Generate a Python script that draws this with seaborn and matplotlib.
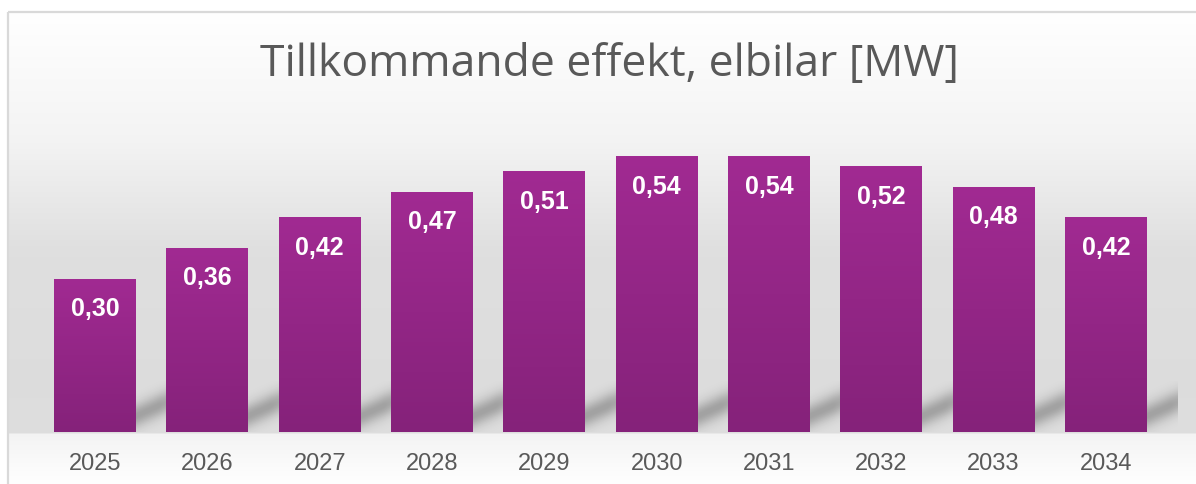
import numpy as np
import matplotlib.pyplot as plt
import seaborn as sns
from matplotlib.colors import LinearSegmentedColormap
from matplotlib.patches import Rectangle

# --- Data ---
years = ['2025', '2026', '2027', '2028', '2029', '2030', '2031', '2032', '2033', '2034']
values = [0.30, 0.36, 0.42, 0.47, 0.51, 0.54, 0.54, 0.52, 0.48, 0.42]
title = "Tillkommande effekt, elbilar [MW]"

W, H = 1196, 484
TEXT_GREY = '#595959'

sns.set_theme(style='white')
plt.rcParams['font.family'] = ['Liberation Sans', 'DejaVu Sans']

fig = plt.figure(figsize=(W / 100, H / 100), dpi=100)

# --- Background (Excel-like vertical gradient) ---
bg = fig.add_axes([0, 0, 1, 1], zorder=-2)
bg.axis('off')
rows = np.arange(H)
level = np.interp(rows, [12, 140, 250, 380, 432, 434, 484],
                  [1.0, 0.955, 0.875, 0.865, 0.87, 0.955, 1.0])
img = np.repeat(level[:, None], W, axis=1)
img[:12, :] = 1.0
img[:, :8] = 1.0
bg.imshow(np.dstack([img] * 3), extent=[0, W, H, 0], aspect='auto')
bg.set_xlim(0, W)
bg.set_ylim(H, 0)
bg.add_patch(Rectangle((8, 12), W + 10, H + 10, fill=False, edgecolor='#D9D9D9', lw=1.6))

# --- Bars ---
ax = fig.add_axes([39 / W, 52 / H, 1123 / W, 306 / H])
ax.set_facecolor('none')
sns.barplot(x=years, y=values, ax=ax, width=0.73, color='#93268A', saturation=1)

bar_cmap = LinearSegmentedColormap.from_list('bar', ['#85227A', '#A12A92'])
grad = np.linspace(0, 1, 256)[::-1].reshape(-1, 1)

# soft cast shadow to the right of each bar
sh_h = 0.1
yy = np.linspace(0, 51, 80)[:, None]          # px above baseline
tt = np.linspace(0, 1, 80)[None, :]           # across the gap
centre = 16 + 14 * tt
alpha = 0.27 * np.exp(-((yy - centre) / 12.0) ** 2)
alpha *= np.clip(1.3 - tt * 0.4, 0, 1)
shadow = np.zeros((80, 80, 4))
shadow[..., 3] = alpha

for patch in ax.patches:
    x0, w, h = patch.get_x(), patch.get_width(), patch.get_height()
    ax.imshow(shadow, extent=[x0 + w, x0 + 1.0, 0, sh_h], origin='lower',
              aspect='auto', zorder=1, clip_on=False, interpolation='bilinear')
    ax.imshow(grad, extent=[x0, x0 + w, 0, h], aspect='auto', cmap=bar_cmap, zorder=2)
    patch.set_alpha(0)

for i, v in enumerate(values):
    ax.annotate(f"{v:.2f}".replace('.', ','), (i, v), xytext=(0, -30),
                textcoords='offset pixels', ha='center', va='center',
                color='white', fontsize=18, fontweight='bold', zorder=3)

sns.despine(ax=ax, left=True, bottom=True)
ax.set_yticks([])
ax.set_xlabel('')
ax.set_ylabel('')
ax.set_xlim(-0.5, len(years) - 0.5)
ax.set_ylim(0, 0.6)
ax.tick_params(axis='x', length=0, pad=15, labelsize=17, labelcolor=TEXT_GREY)

fig.text(610 / W, 1 - 65 / H, title, ha='center', va='center',
         fontsize=32, color=TEXT_GREY, family=['Open Sans', 'DejaVu Sans'])

plt.savefig('out.png', dpi=100)
plt.close()
